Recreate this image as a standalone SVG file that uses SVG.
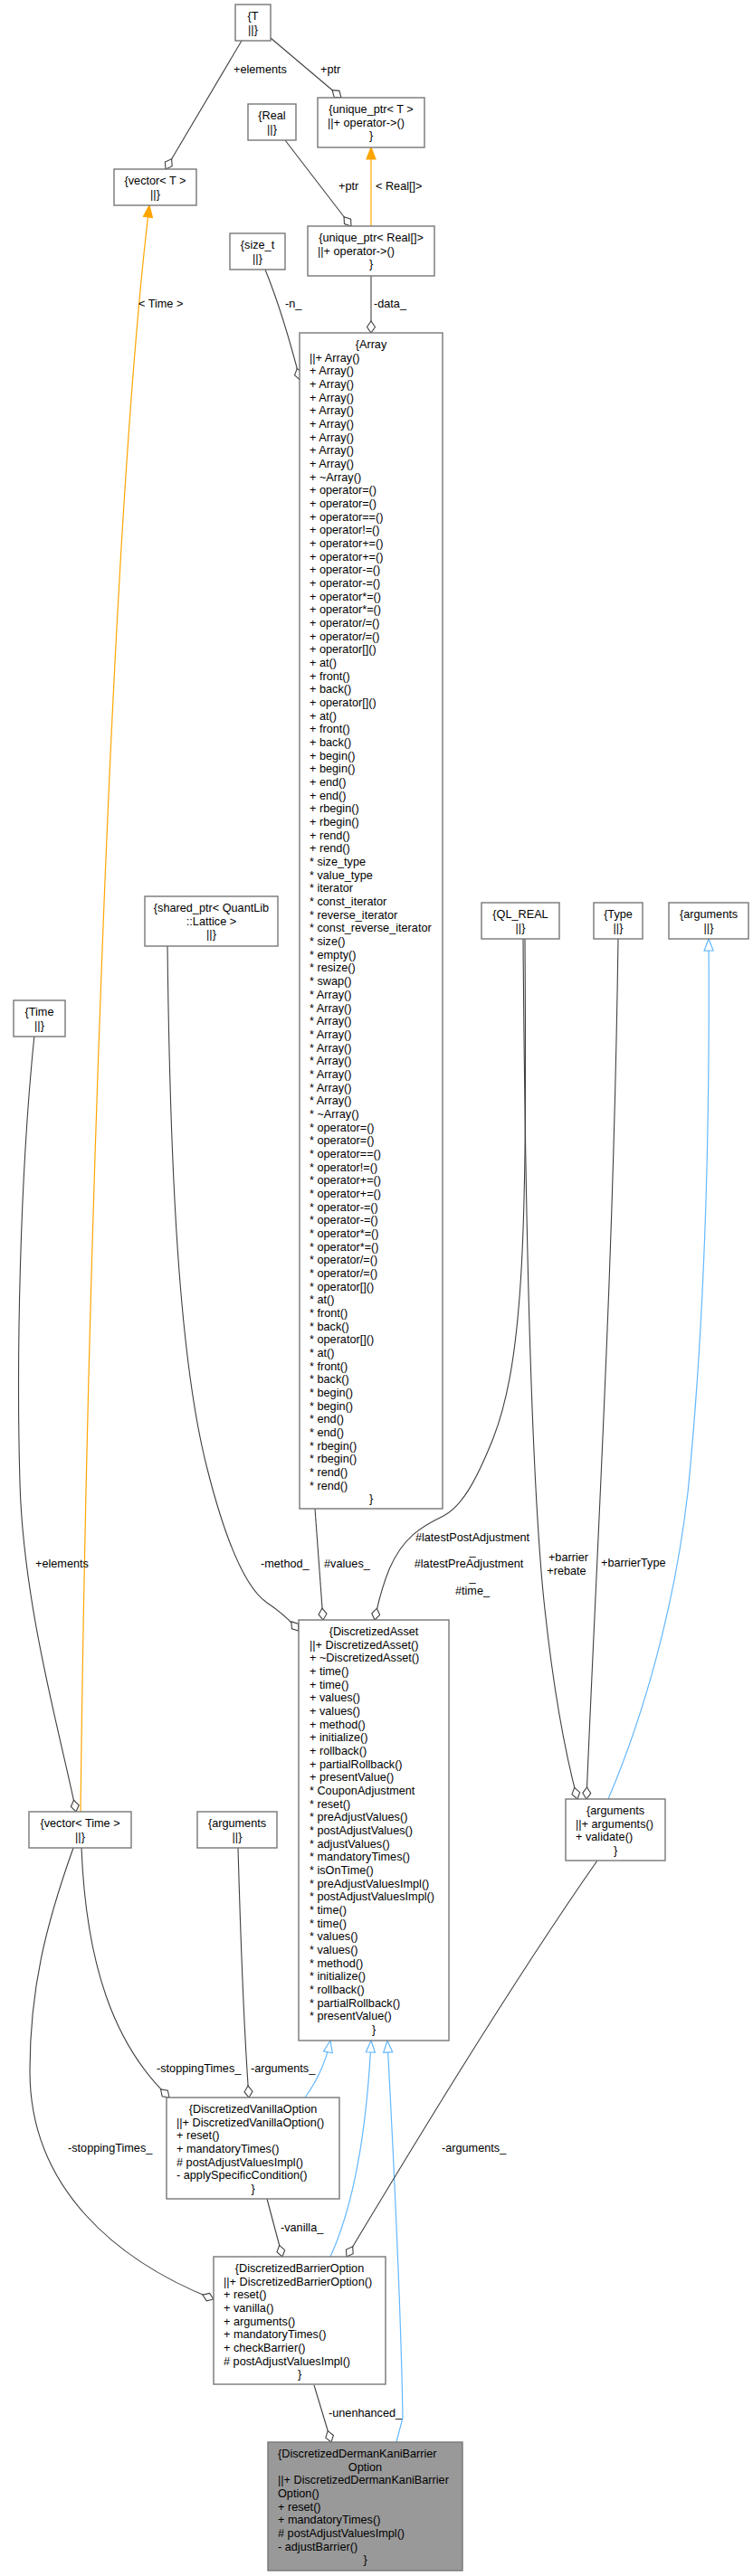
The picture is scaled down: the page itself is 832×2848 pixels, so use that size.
<svg xmlns="http://www.w3.org/2000/svg" width="832" height="2848" viewBox="0 0 832 2848">
<style>
.n rect{fill:#fff;stroke:#777;stroke-width:1.4}
.n.focus rect{fill:#999}
text{font-family:"Liberation Sans",Arial,sans-serif;font-size:12.7px;fill:#000}
.m{text-anchor:middle}
.e{fill:none;stroke:#404040;stroke-width:1.1}
.e.dia{marker-end:url(#dia)}
.inh{fill:none;stroke:#63B8FF;stroke-width:1.2;marker-end:url(#tri)}
.tpl{fill:none;stroke:#FFA500;stroke-width:1.2;marker-end:url(#otri)}
</style>
<defs>
<marker id="dia" markerUnits="userSpaceOnUse" viewBox="-15 -7 17 14" refX="0" refY="0" markerWidth="17" markerHeight="14" orient="auto" overflow="visible"><path d="M0,0 L-6.5,-4.5 L-13,0 L-6.5,4.5 Z" fill="#fff" stroke="#404040" stroke-width="1.1"/></marker>
<marker id="tri" markerUnits="userSpaceOnUse" viewBox="-15 -7 17 14" refX="0" refY="0" markerWidth="17" markerHeight="14" orient="auto" overflow="visible"><path d="M0,0 L-13,-5 L-13,5 Z" fill="#fff" stroke="#63B8FF" stroke-width="1.2"/></marker>
<marker id="otri" markerUnits="userSpaceOnUse" viewBox="-15 -7 17 14" refX="0" refY="0" markerWidth="17" markerHeight="14" orient="auto" overflow="visible"><path d="M0,0 L-13,-5 L-13,5 Z" fill="#FFA500" stroke="#FFA500" stroke-width="1.2"/></marker>
</defs>
<rect width="832" height="2848" fill="#fff"/>

<g id="edges">
<path class="e dia" d="M267,45 L183,187"/>
<text x="258" y="80.5">+elements</text>
<path class="e dia" d="M299,42 L377,108"/>
<text x="354" y="80.5">+ptr</text>
<path class="e dia" d="M315,155 L388,250"/>
<text x="374" y="210">+ptr</text>
<path class="tpl" d="M410,250 L410,163"/>
<text x="415" y="210">&lt; Real[]&gt;</text>
<path class="e dia" d="M410,305 L410,368"/>
<text x="413" y="340">-data_</text>
<path class="e dia" d="M293,298 C308,335 320,375 331.5,420"/>
<text x="315" y="340">-n_</text>
<path class="tpl" d="M89,2003 C95,1500 120,600 165,227"/>
<text x="153" y="340">&lt; Time &gt;</text>
<path class="e dia" d="M38,1144 C22,1300 18,1500 22,1640 C26,1780 70,1930 84,2003"/>
<text x="39" y="1733">+elements</text>
<path class="e dia" d="M90,2043 C95,2170 125,2260 187,2319"/>
<text x="173" y="2291">-stoppingTimes_</text>
<path class="e dia" d="M81,2043 C50,2130 33,2200 33,2290 C33,2420 130,2500 236,2542"/>
<text x="75" y="2379">-stoppingTimes_</text>
<path class="e dia" d="M263,2043 C266,2150 270,2250 275,2319"/>
<text x="277" y="2291">-arguments_</text>
<path class="inh" d="M337,2319 Q358,2290 365,2256"/>
<path class="inh" d="M365,2495 C390,2440 405,2360 410,2256"/>
<path class="inh" d="M438,2700 L445,2673 C443,2550 433,2350 428,2256"/>
<path class="e dia" d="M295,2431 L312,2495"/>
<text x="310" y="2467">-vanilla_</text>
<path class="e dia" d="M660,2057 C560,2200 440,2400 383,2495"/>
<text x="488" y="2379">-arguments_</text>
<path class="e dia" d="M347,2637 L366,2700"/>
<text x="363" y="2672">-unenhanced_</text>
<path class="e dia" d="M185,1046 C188,1300 198,1500 228,1620 C248,1700 270,1755 295,1772 C310,1782 322,1793 330,1803"/>
<text x="288" y="1733">-method_</text>
<path class="e dia" d="M348,1668 C350,1700 353,1740 357,1791"/>
<text x="358" y="1733">#values_</text>
<path class="e dia" d="M580,1038 C582,1350 580,1500 545,1590 C525,1640 510,1665 490,1676 C465,1688 445,1700 430,1735 C422,1755 418,1770 414,1791"/>
<text class="m"><tspan x="522" y="1704">#latestPostAdjustment</tspan><tspan x="522" dy="14.67">_</tspan><tspan x="518" dy="14.67">#latestPreAdjustment</tspan><tspan x="522" dy="14.67">_</tspan><tspan x="522" dy="14.67">#time_</tspan></text>
<path class="e dia" d="M578,1038 C580,1300 585,1600 600,1760 C610,1860 625,1940 638,1989"/>
<text class="m"><tspan x="628" y="1726">+barrier</tspan><tspan x="626" dy="14.67">+rebate</tspan></text>
<path class="e dia" d="M683,1038 C678,1400 660,1700 648,1989"/>
<text x="664" y="1732">+barrierType</text>
<path class="inh" d="M672,1989 C710,1900 745,1780 760,1650 C775,1500 785,1300 783,1038"/>
</g>

<g id="node-T" class="n"><rect x="260" y="5" width="39" height="40"/><text class="m"><tspan x="279.5" y="22">{T</tspan><tspan x="279.5" dy="14.67">||}</tspan></text></g>
<g id="node-vectorT" class="n"><rect x="126" y="187" width="91" height="40"/><text class="m"><tspan x="171.5" y="204">{vector&lt; T &gt;</tspan><tspan x="171.5" dy="14.67">||}</tspan></text></g>
<g id="node-Real" class="n"><rect x="274" y="115" width="53" height="40"/><text class="m"><tspan x="300.5" y="132">{Real</tspan><tspan x="300.5" dy="14.67">||}</tspan></text></g>
<g id="node-uniqueT" class="n"><rect x="351" y="108" width="118" height="55"/><text><tspan class="m" x="410" y="125">{unique_ptr&lt; T &gt;</tspan><tspan x="362" dy="14.67">||+ operator-&gt;()</tspan><tspan class="m" x="410" dy="14.67">}</tspan></text></g>
<g id="node-uniqueReal" class="n"><rect x="340" y="250" width="140" height="55"/><text><tspan class="m" x="410" y="267">{unique_ptr&lt; Real[]&gt;</tspan><tspan x="351" dy="14.67">||+ operator-&gt;()</tspan><tspan class="m" x="410" dy="14.67">}</tspan></text></g>
<g id="node-size_t" class="n"><rect x="254" y="258" width="61" height="40"/><text class="m"><tspan x="284.5" y="275">{size_t</tspan><tspan x="284.5" dy="14.67">||}</tspan></text></g>

<g id="node-Array" class="n"><rect x="331" y="368" width="158" height="1300"/><text><tspan class="m" x="410" y="385">{Array</tspan><tspan x="342" dy="14.67">||+ Array()</tspan><tspan x="342" dy="14.67">+ Array()</tspan><tspan x="342" dy="14.67">+ Array()</tspan><tspan x="342" dy="14.67">+ Array()</tspan><tspan x="342" dy="14.67">+ Array()</tspan><tspan x="342" dy="14.67">+ Array()</tspan><tspan x="342" dy="14.67">+ Array()</tspan><tspan x="342" dy="14.67">+ Array()</tspan><tspan x="342" dy="14.67">+ Array()</tspan><tspan x="342" dy="14.67">+ ~Array()</tspan><tspan x="342" dy="14.67">+ operator=()</tspan><tspan x="342" dy="14.67">+ operator=()</tspan><tspan x="342" dy="14.67">+ operator==()</tspan><tspan x="342" dy="14.67">+ operator!=()</tspan><tspan x="342" dy="14.67">+ operator+=()</tspan><tspan x="342" dy="14.67">+ operator+=()</tspan><tspan x="342" dy="14.67">+ operator-=()</tspan><tspan x="342" dy="14.67">+ operator-=()</tspan><tspan x="342" dy="14.67">+ operator*=()</tspan><tspan x="342" dy="14.67">+ operator*=()</tspan><tspan x="342" dy="14.67">+ operator/=()</tspan><tspan x="342" dy="14.67">+ operator/=()</tspan><tspan x="342" dy="14.67">+ operator[]()</tspan><tspan x="342" dy="14.67">+ at()</tspan><tspan x="342" dy="14.67">+ front()</tspan><tspan x="342" dy="14.67">+ back()</tspan><tspan x="342" dy="14.67">+ operator[]()</tspan><tspan x="342" dy="14.67">+ at()</tspan><tspan x="342" dy="14.67">+ front()</tspan><tspan x="342" dy="14.67">+ back()</tspan><tspan x="342" dy="14.67">+ begin()</tspan><tspan x="342" dy="14.67">+ begin()</tspan><tspan x="342" dy="14.67">+ end()</tspan><tspan x="342" dy="14.67">+ end()</tspan><tspan x="342" dy="14.67">+ rbegin()</tspan><tspan x="342" dy="14.67">+ rbegin()</tspan><tspan x="342" dy="14.67">+ rend()</tspan><tspan x="342" dy="14.67">+ rend()</tspan><tspan x="342" dy="14.67">* size_type</tspan><tspan x="342" dy="14.67">* value_type</tspan><tspan x="342" dy="14.67">* iterator</tspan><tspan x="342" dy="14.67">* const_iterator</tspan><tspan x="342" dy="14.67">* reverse_iterator</tspan><tspan x="342" dy="14.67">* const_reverse_iterator</tspan><tspan x="342" dy="14.67">* size()</tspan><tspan x="342" dy="14.67">* empty()</tspan><tspan x="342" dy="14.67">* resize()</tspan><tspan x="342" dy="14.67">* swap()</tspan><tspan x="342" dy="14.67">* Array()</tspan><tspan x="342" dy="14.67">* Array()</tspan><tspan x="342" dy="14.67">* Array()</tspan><tspan x="342" dy="14.67">* Array()</tspan><tspan x="342" dy="14.67">* Array()</tspan><tspan x="342" dy="14.67">* Array()</tspan><tspan x="342" dy="14.67">* Array()</tspan><tspan x="342" dy="14.67">* Array()</tspan><tspan x="342" dy="14.67">* Array()</tspan><tspan x="342" dy="14.67">* ~Array()</tspan><tspan x="342" dy="14.67">* operator=()</tspan><tspan x="342" dy="14.67">* operator=()</tspan><tspan x="342" dy="14.67">* operator==()</tspan><tspan x="342" dy="14.67">* operator!=()</tspan><tspan x="342" dy="14.67">* operator+=()</tspan><tspan x="342" dy="14.67">* operator+=()</tspan><tspan x="342" dy="14.67">* operator-=()</tspan><tspan x="342" dy="14.67">* operator-=()</tspan><tspan x="342" dy="14.67">* operator*=()</tspan><tspan x="342" dy="14.67">* operator*=()</tspan><tspan x="342" dy="14.67">* operator/=()</tspan><tspan x="342" dy="14.67">* operator/=()</tspan><tspan x="342" dy="14.67">* operator[]()</tspan><tspan x="342" dy="14.67">* at()</tspan><tspan x="342" dy="14.67">* front()</tspan><tspan x="342" dy="14.67">* back()</tspan><tspan x="342" dy="14.67">* operator[]()</tspan><tspan x="342" dy="14.67">* at()</tspan><tspan x="342" dy="14.67">* front()</tspan><tspan x="342" dy="14.67">* back()</tspan><tspan x="342" dy="14.67">* begin()</tspan><tspan x="342" dy="14.67">* begin()</tspan><tspan x="342" dy="14.67">* end()</tspan><tspan x="342" dy="14.67">* end()</tspan><tspan x="342" dy="14.67">* rbegin()</tspan><tspan x="342" dy="14.67">* rbegin()</tspan><tspan x="342" dy="14.67">* rend()</tspan><tspan x="342" dy="14.67">* rend()</tspan><tspan class="m" x="410" dy="14.67">}</tspan></text></g>

<g id="node-shared_ptr" class="n"><rect x="160" y="991" width="147" height="55"/><text class="m"><tspan x="233.5" y="1008">{shared_ptr&lt; QuantLib</tspan><tspan x="233.5" dy="14.67">::Lattice &gt;</tspan><tspan x="233.5" dy="14.67">||}</tspan></text></g>
<g id="node-QL_REAL" class="n"><rect x="532" y="998" width="86" height="40"/><text class="m"><tspan x="575" y="1015">{QL_REAL</tspan><tspan x="575" dy="14.67">||}</tspan></text></g>
<g id="node-Type" class="n"><rect x="656" y="998" width="54" height="40"/><text class="m"><tspan x="683" y="1015">{Type</tspan><tspan x="683" dy="14.67">||}</tspan></text></g>
<g id="node-arguments-base" class="n"><rect x="739" y="998" width="88" height="40"/><text class="m"><tspan x="783" y="1015">{arguments</tspan><tspan x="783" dy="14.67">||}</tspan></text></g>
<g id="node-Time" class="n"><rect x="15" y="1106" width="57" height="40"/><text class="m"><tspan x="43.5" y="1123">{Time</tspan><tspan x="43.5" dy="14.67">||}</tspan></text></g>

<g id="node-DiscretizedAsset" class="n"><rect x="330" y="1791" width="166" height="465"/><text><tspan class="m" x="413" y="1808">{DiscretizedAsset</tspan><tspan x="342" dy="14.67">||+ DiscretizedAsset()</tspan><tspan x="342" dy="14.67">+ ~DiscretizedAsset()</tspan><tspan x="342" dy="14.67">+ time()</tspan><tspan x="342" dy="14.67">+ time()</tspan><tspan x="342" dy="14.67">+ values()</tspan><tspan x="342" dy="14.67">+ values()</tspan><tspan x="342" dy="14.67">+ method()</tspan><tspan x="342" dy="14.67">+ initialize()</tspan><tspan x="342" dy="14.67">+ rollback()</tspan><tspan x="342" dy="14.67">+ partialRollback()</tspan><tspan x="342" dy="14.67">+ presentValue()</tspan><tspan x="342" dy="14.67">* CouponAdjustment</tspan><tspan x="342" dy="14.67">* reset()</tspan><tspan x="342" dy="14.67">* preAdjustValues()</tspan><tspan x="342" dy="14.67">* postAdjustValues()</tspan><tspan x="342" dy="14.67">* adjustValues()</tspan><tspan x="342" dy="14.67">* mandatoryTimes()</tspan><tspan x="342" dy="14.67">* isOnTime()</tspan><tspan x="342" dy="14.67">* preAdjustValuesImpl()</tspan><tspan x="342" dy="14.67">* postAdjustValuesImpl()</tspan><tspan x="342" dy="14.67">* time()</tspan><tspan x="342" dy="14.67">* time()</tspan><tspan x="342" dy="14.67">* values()</tspan><tspan x="342" dy="14.67">* values()</tspan><tspan x="342" dy="14.67">* method()</tspan><tspan x="342" dy="14.67">* initialize()</tspan><tspan x="342" dy="14.67">* rollback()</tspan><tspan x="342" dy="14.67">* partialRollback()</tspan><tspan x="342" dy="14.67">* presentValue()</tspan><tspan class="m" x="413" dy="14.67">}</tspan></text></g>

<g id="node-arguments-barrier" class="n"><rect x="625" y="1989" width="110" height="68"/><text><tspan class="m" x="680" y="2006">{arguments</tspan><tspan x="636" dy="14.67">||+ arguments()</tspan><tspan x="636" dy="14.67">+ validate()</tspan><tspan class="m" x="680" dy="14.67">}</tspan></text></g>
<g id="node-vectorTime" class="n"><rect x="32" y="2003" width="113" height="40"/><text class="m"><tspan x="88.5" y="2020">{vector&lt; Time &gt;</tspan><tspan x="88.5" dy="14.67">||}</tspan></text></g>
<g id="node-arguments-vanilla" class="n"><rect x="218" y="2003" width="88" height="40"/><text class="m"><tspan x="262" y="2020">{arguments</tspan><tspan x="262" dy="14.67">||}</tspan></text></g>

<g id="node-DiscretizedVanillaOption" class="n"><rect x="184" y="2319" width="191" height="112"/><text><tspan class="m" x="279.5" y="2336">{DiscretizedVanillaOption</tspan><tspan x="195" dy="14.67">||+ DiscretizedVanillaOption()</tspan><tspan x="195" dy="14.67">+ reset()</tspan><tspan x="195" dy="14.67">+ mandatoryTimes()</tspan><tspan x="195" dy="14.67"># postAdjustValuesImpl()</tspan><tspan x="195" dy="14.67">- applySpecificCondition()</tspan><tspan class="m" x="279.5" dy="14.67">}</tspan></text></g>

<g id="node-DiscretizedBarrierOption" class="n"><rect x="236" y="2495" width="190" height="141"/><text><tspan class="m" x="331" y="2512">{DiscretizedBarrierOption</tspan><tspan x="247" dy="14.67">||+ DiscretizedBarrierOption()</tspan><tspan x="247" dy="14.67">+ reset()</tspan><tspan x="247" dy="14.67">+ vanilla()</tspan><tspan x="247" dy="14.67">+ arguments()</tspan><tspan x="247" dy="14.67">+ mandatoryTimes()</tspan><tspan x="247" dy="14.67">+ checkBarrier()</tspan><tspan x="247" dy="14.67"># postAdjustValuesImpl()</tspan><tspan class="m" x="331" dy="14.67">}</tspan></text></g>

<g id="node-DiscretizedDermanKaniBarrierOption" class="n focus"><rect x="296" y="2700" width="215" height="142"/><text><tspan x="307" y="2717">{DiscretizedDermanKaniBarrier</tspan><tspan class="m" x="403.5" dy="14.67">Option</tspan><tspan x="307" dy="14.67">||+ DiscretizedDermanKaniBarrier</tspan><tspan x="307" dy="14.67">Option()</tspan><tspan x="307" dy="14.67">+ reset()</tspan><tspan x="307" dy="14.67">+ mandatoryTimes()</tspan><tspan x="307" dy="14.67"># postAdjustValuesImpl()</tspan><tspan x="307" dy="14.67">- adjustBarrier()</tspan><tspan class="m" x="403.5" dy="14.67">}</tspan></text></g>
</svg>
